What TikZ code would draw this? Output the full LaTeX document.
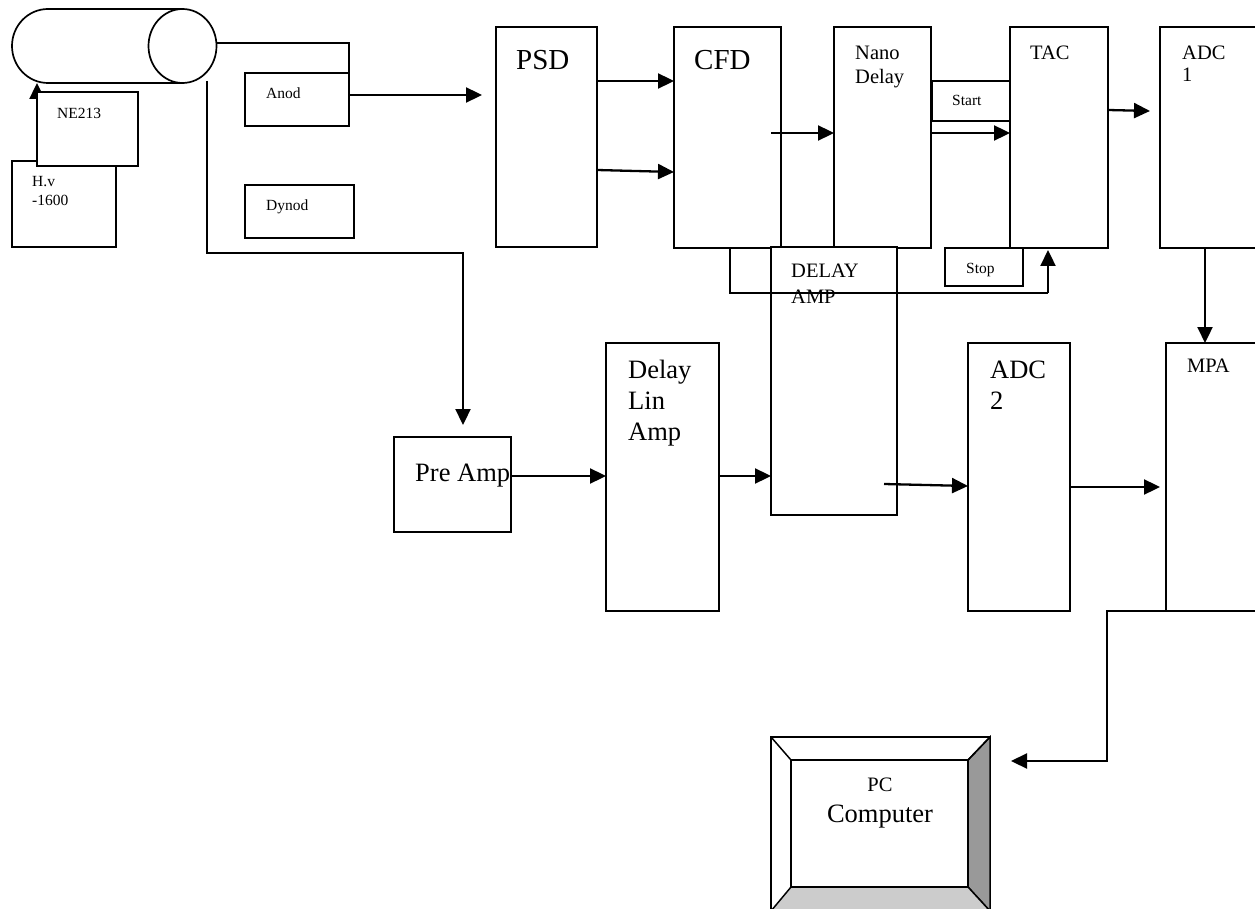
\documentclass[tikz,border=0pt]{standalone}
\usepackage{fontspec}
\setmainfont{Liberation Serif}
\usetikzlibrary{arrows.meta}
\newcommand{\bx}[5]{\path[boxpath] (#2,#3) rectangle (#4,#5); \coordinate (#1-nw) at (#2,#3); \node[boxnode,minimum width={(#4)*1pt-(#2)*1pt},minimum height={(#5)*1pt-(#3)*1pt}] (#1) at ({(#2+#4)/2},{(#3+#5)/2}) {};}
\tikzset{
  boxpath/.style={draw=black,fill=white,line width=1.7pt},
  boxnode/.style={inner sep=0pt,outer sep=0pt,draw=none},
  conn/.style={draw=black,line width=2.3pt},
  arr/.style={conn,-{Triangle[length=16pt,width=15pt]},shorten >=0pt},
  sm/.style={anchor=base west,inner sep=0pt,font=\fontsize{15.5}{15.5}\selectfont},
  md/.style={anchor=base west,inner sep=0pt,font=\fontsize{20.5}{20.5}\selectfont},
  lg/.style={anchor=base west,inner sep=0pt,font=\fontsize{26.5}{26.5}\selectfont},
  xl/.style={anchor=base west,inner sep=0pt,font=\fontsize{29}{29}\selectfont},
}
\begin{document}
\begin{tikzpicture}[x=1pt,y=-1pt]
\path[use as bounding box] (0,0) rectangle (1255,909);
\clip (0,0) rectangle (1255,909);
% computer
\draw[line width=1.7pt,fill=white] (771,737) rectangle (990,911);
\draw[line width=1.5pt,fill=black!40] (990,737) -- (968,760) -- (968,887) -- (990,911) -- cycle;
\draw[line width=1.5pt,fill=black!20] (771,911) -- (791,887) -- (968,887) -- (990,911) -- cycle;
\draw[line width=1.5pt] (771,737) -- (791,760) (990,737) -- (968,760);
\draw[line width=2.2pt,fill=white] (791,760) rectangle (968,887);
% boxes
\bx{hv}{12}{161}{116}{247}
\bx{anod}{245}{73}{349}{126}
\bx{dynod}{245}{185}{354}{238}
\bx{psd}{496}{27}{597}{247}
\bx{cfd}{674}{27}{781}{248}
\bx{nano}{834}{27}{931}{248}
\bx{tac}{1010}{27}{1108}{248}
\bx{adca}{1160}{27}{1262}{248}
\bx{start}{932}{81}{1010}{121}
\bx{stop}{945}{248}{1023}{286}
\bx{damp}{771}{247}{897}{515}
\bx{pre}{394}{437}{511}{532}
\bx{lin}{606}{343}{719}{611}
\bx{adcb}{968}{343}{1070}{611}
\bx{mpa}{1166}{343}{1262}{611}
% detector
\draw[line width=1.7pt,fill=white] (182,9) -- (48,9) arc[start angle=-90,end angle=-270,x radius=36,y radius=37] -- (182,83);
\draw[line width=1.7pt,fill=white] (182.5,46) ellipse[x radius=34,y radius=37];
\node[boxnode,minimum width=68pt,minimum height=74pt] (pmt) at (182.5,46) {};
\coordinate (pmttip) at (37,83);
\coordinate (hvsrc) at (37,161);
\draw[arr] (hvsrc) -- (pmttip);
\bx{ne}{37}{92}{138}{166}
% texts
\node[sm] (tanod) at (266,99) {Anod};
\node[sm] (tdynod) at (266,211) {Dynod};
\node[sm] (tne) at (57,119) {NE213};
\node[sm] (thv) at (32,187) {H.v};
\node[sm] (thvb) at (32,206) {-1600};
\node[xl] (tpsd) at (516,70) {PSD};
\node[xl] (tcfd) at (694,70) {CFD};
\node[md] (tnano) at (855,60) {Nano};
\node[md] (tdelay) at (855,84) {Delay};
\node[md] (ttac) at (1030,60) {TAC};
\node[md] (tadca) at (1182,60) {ADC};
\node[md] (tadcb) at (1182,82) {1};
\node[sm] (tstart) at (952,106) {Start};
\node[sm] (tstop) at (966,273) {Stop};
\node[md] (tda) at (791,278) {DELAY};
\node[md] (tdb) at (791,303) {AMP};
\node[md] (tmpa) at (1187,372) {MPA};
\node[lg] (tl) at (628,378) {Delay};
\node[lg] (tm) at (628,409) {Lin};
\node[lg] (tn) at (628,440) {Amp};
\node[lg] (ta) at (990,378) {ADC};
\node[lg] (tb) at (990,409) {2};
\node[lg] (tp) at (415,481) {Pre Amp};
\node[md,anchor=base] (tpc) at (880,791) {PC};
\node[lg,anchor=base] (tc) at (880,822) {Computer};
% connectors
\coordinate (pmtout) at (207,81);
\coordinate (psdin) at (482,95);
\coordinate (cfdsrc) at (771,133);
\coordinate (adcin) at (1150,111);
\coordinate (pcin) at (1011,761);
\coordinate (mpaout) at (1204,611);
\coordinate (dout) at (884,484);
\coordinate (cfdb) at (730,248);
\coordinate (tacin) at (1048,250);
\coordinate (pretip) at (463,425);
\draw[conn] (pmt.east |- 0,43) -| (anod.north east);
\draw[conn] (anod.north east) -- (anod.south east);
\draw[arr] (anod.east |- psdin) -- (psdin);
\draw[arr] (pmtout) |- (pretip |- 0,253) -- (pretip);
\draw[arr] (psd.east |- 0,81) -- (cfd.west |- 0,81);
\draw[arr] (psd.east |- 0,170) -- (cfd.west |- 0,172);
\draw[arr] (cfdsrc) -- (nano.west |- cfdsrc);
\draw[arr] (nano.east |- cfdsrc) -- (tac.west |- cfdsrc);
\draw[arr] (tac.east |- 0,110) -- (adcin);
\draw[arr] (adca.south -| 1205,0) -- (mpa.north -| 1205,0);
\draw[conn] (cfdb) -- (730,293) -- (1048,293);
\draw[arr] (1048,293) -- (tacin);
\draw[arr] (pre.east |- 0,476) -- (lin.west |- 0,476);
\draw[arr] (lin.east |- 0,476) -- (damp.west |- 0,476);
\draw[arr] (dout) -- (adcb.west |- 0,486);
\draw[arr] (adcb.east |- 0,487) -- (1160,487);
\draw[arr] (mpaout) -- (1107,611) -- (1107,761) -- (pcin);
\end{tikzpicture}
\end{document}
